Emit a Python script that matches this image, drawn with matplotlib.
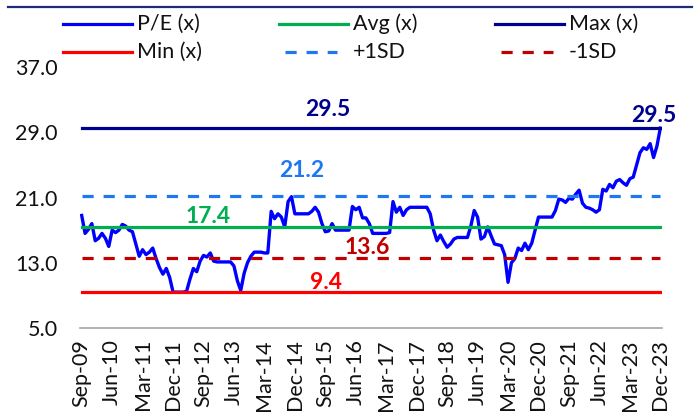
import matplotlib
matplotlib.use("Agg")
import matplotlib.pyplot as plt
from matplotlib.lines import Line2D
import pandas as pd

# Monthly trailing P/E, Sep-2009 .. Dec-2023
months = pd.date_range("2009-09-01", "2023-12-01", freq="MS")
month_labels = [d.strftime("%b-%y") for d in months]

pe = [
    18.8, 16.6, 17.1, 17.8, 15.7, 16.0, 16.6, 16.0, 15.0, 17.0,
    16.7, 17.0, 17.7, 17.5, 17.0, 16.8, 15.3, 13.8, 14.6, 14.0,
    14.3, 14.8, 13.5, 12.4, 11.6, 12.3, 11.2, 9.4, 9.4, 9.4,
    9.4, 9.5, 11.0, 12.3, 11.9, 13.2, 13.9, 13.7, 14.2, 13.2,
    13.1, 13.1, 13.1, 13.1, 13.1, 12.6, 10.8, 9.6, 11.7, 13.0,
    13.8, 14.3, 14.3, 14.3, 14.2, 14.2, 19.3, 18.4, 19.0, 18.6,
    17.4, 20.5, 21.1, 19.0, 19.0, 19.0, 19.0, 19.0, 19.3, 19.8,
    19.2, 17.8, 16.8, 16.9, 17.8, 17.0, 17.0, 17.0, 17.0, 17.0,
    19.9, 19.5, 19.8, 18.5, 18.5, 17.8, 16.6, 16.6, 16.6, 16.6,
    16.6, 16.7, 20.5, 19.2, 19.8, 18.8, 19.5, 19.8, 19.8, 19.8,
    19.8, 19.8, 19.8, 19.0, 17.0, 15.7, 16.4, 15.6, 14.9, 15.3,
    15.9, 16.1, 16.1, 16.1, 16.1, 17.5, 19.4, 18.6, 15.9, 16.2,
    17.4, 16.3, 15.3, 15.2, 15.1, 14.0, 10.6, 13.0, 13.5, 14.8,
    14.5, 15.4, 14.6, 15.4, 17.0, 18.6, 18.6, 18.6, 18.6, 18.6,
    19.4, 20.8, 20.7, 20.4, 20.9, 20.8, 21.4, 21.9, 20.3, 19.8,
    19.7, 19.5, 19.2, 19.5, 22.0, 21.8, 22.6, 22.2, 23.0, 23.2,
    22.8, 22.5, 23.3, 23.5, 25.0, 26.5, 27.1, 26.9, 27.6, 25.9,
    27.3, 29.5,
]

avg_pe = 17.4
plus_1sd = 21.2
minus_1sd = 13.6
max_pe = 29.5
min_pe = 9.4

y_ticks = [5.0, 13.0, 21.0, 29.0, 37.0]
tick_step = 9

C_PE = "#0000FF"
C_AVG = "#00B050"
C_MAX = "#00008F"
C_MIN = "#FF0000"
C_P1 = "#1F78F2"
C_M1 = "#C00000"

plt.rcParams["font.family"] = ["Lato", "DejaVu Sans"]
FS = 15.5
LW = 2.3
DASH = (0, (3.5, 3.1))

W, H = 699, 416
fig = plt.figure(figsize=(W / 100, H / 100), dpi=100)
ax = fig.add_axes([80 / W, 1 - 328 / H, 582 / W, 261 / H])

n = len(pe)
x = list(range(n))

ax.plot(x, pe, color=C_PE, lw=LW + 0.1, solid_joinstyle="round", zorder=2)
ax.plot(x, [avg_pe] * n, color=C_AVG, lw=LW, zorder=3)
ax.plot(x, [max_pe] * n, color=C_MAX, lw=LW, zorder=3)
ax.plot(x, [min_pe] * n, color=C_MIN, lw=LW, zorder=3)
ax.plot(x, [plus_1sd] * n, color=C_P1, lw=LW, linestyle=DASH, zorder=3)
ax.plot(x, [minus_1sd] * n, color=C_M1, lw=LW, linestyle=DASH, zorder=3)

ax.set_xlim(-0.5, n - 0.5)
ax.set_ylim(5, 37)

# value labels
lab = dict(fontsize=16.5, fontweight="bold", ha="center", va="center", zorder=6)
ax.text(72.8, max_pe + 2.3, f"{max_pe:.1f}", color=C_MAX, **lab)
ax.text(169, max_pe + 1.6, f"{max_pe:.1f}", color=C_MAX, **lab)
ax.text(64.9, plus_1sd + 3.1, f"{plus_1sd:.1f}", color=C_P1, **lab)
ax.text(37.4, avg_pe + 1.3, f"{avg_pe:.1f}", color=C_AVG, **lab)
ax.text(84.3, minus_1sd + 1.3, f"{minus_1sd:.1f}", color=C_M1, **lab)
ax.text(72.2, min_pe + 1.2, f"{min_pe:.1f}", color=C_MIN, **lab)

# axes styling
for s in ("left", "right", "top"):
    ax.spines[s].set_visible(False)
ax.spines["bottom"].set_color("#A6A6A6")
ax.spines["bottom"].set_linewidth(1.2)

ax.set_yticks(y_ticks)
ax.set_yticklabels([f"{v:.1f}" for v in y_ticks])
ax.tick_params(axis="y", length=0, pad=16, labelsize=FS, labelcolor="#111111")

xt = x[::tick_step]
ax.set_xticks(xt)
ax.set_xticklabels([month_labels[i] for i in xt], rotation=90)
ax.tick_params(axis="x", length=0, pad=8, labelsize=FS, labelcolor="#111111")


# legend (two rows of three)
def fx(px):
    return px / W


def fy(py):
    return 1 - py / H


entries = [
    ("P/E (x)", C_PE, "-"),
    ("Avg (x)", C_AVG, "-"),
    ("Max (x)", C_MAX, "-"),
    ("Min (x)", C_MIN, "-"),
    ("+1SD", C_P1, DASH),
    ("-1SD", C_M1, DASH),
]
col_x = [63, 279, 495]
row_y = [24, 52]
for k, (name, col, ls) in enumerate(entries):
    r, c = divmod(k, 3)
    x0 = col_x[c]
    y0 = row_y[r]
    if ls == "-":
        hx = [x0, x0 + 69]
    else:
        hx = [x0 + 6, x0 + 58]
    fig.add_artist(Line2D([fx(hx[0]), fx(hx[1])], [fy(y0), fy(y0)],
                          color=col, lw=LW, linestyle=ls,
                          transform=fig.transFigure))
    fig.text(fx(x0 + 74), fy(y0), name, fontsize=FS, color="#111111",
             ha="left", va="center")

# rule beneath the heading band
fig.add_artist(Line2D([fx(8), fx(692)], [fy(7), fy(7)], color="#1F2A78",
                      lw=1.6, transform=fig.transFigure))

fig.savefig("out.png", dpi=100)
